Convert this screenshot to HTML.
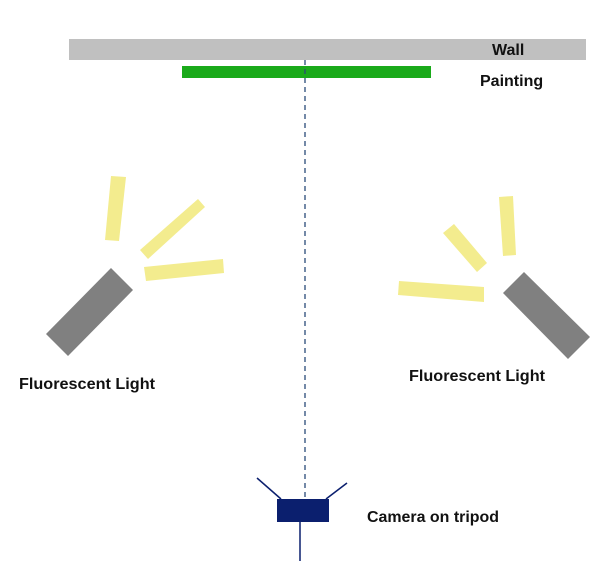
<!DOCTYPE html>
<html><head><style>body{margin:0;background:#fff}svg{display:block}text{font-family:"Liberation Sans",Arial,sans-serif;font-weight:bold;fill:#111}</style></head>
<body>
<svg width="600" height="575" viewBox="0 0 600 575">
<rect x="69" y="39" width="517" height="21" fill="#c0c0c0"/>
<text x="492" y="55" font-size="16">Wall</text>
<rect x="182" y="66" width="249" height="12" fill="#1aaa1a"/>
<text x="480" y="86" font-size="16">Painting</text>
<line x1="305" y1="60" x2="305" y2="497" stroke="#2a4a78" stroke-width="1.3" stroke-dasharray="5,4"/>
<g fill="#f3ec8e">
<polygon points="111,176 126,177 119,241 105,240"/>
<polygon points="198,199 205,207 148,259 140,250"/>
<polygon points="144,267 223,259 224,273 146,281"/>
<polygon points="499,197 513,196 516,255 503,256"/>
<polygon points="443,233 454,224 487,263 477,272"/>
<polygon points="399,281 484,287 484,302 398,295"/>
</g>
<g fill="#808080">
<polygon points="111,268 133,290 68,356 46,334"/>
<polygon points="524,272 590,337 568,359 503,293"/>
</g>
<text x="19" y="389" font-size="16" textLength="136" lengthAdjust="spacingAndGlyphs">Fluorescent Light</text>
<text x="409" y="381" font-size="16" textLength="136" lengthAdjust="spacingAndGlyphs">Fluorescent Light</text>
<g stroke="#0b1f6e" stroke-width="1.5">
<line x1="257" y1="478" x2="281" y2="499"/>
<line x1="347" y1="483" x2="326" y2="499"/>
<line x1="300" y1="522" x2="300" y2="561"/>
</g>
<rect x="277" y="499" width="52" height="23" fill="#0b1f6e"/>
<text x="367" y="522" font-size="16" textLength="132" lengthAdjust="spacingAndGlyphs">Camera on tripod</text>
</svg>
</body></html>
